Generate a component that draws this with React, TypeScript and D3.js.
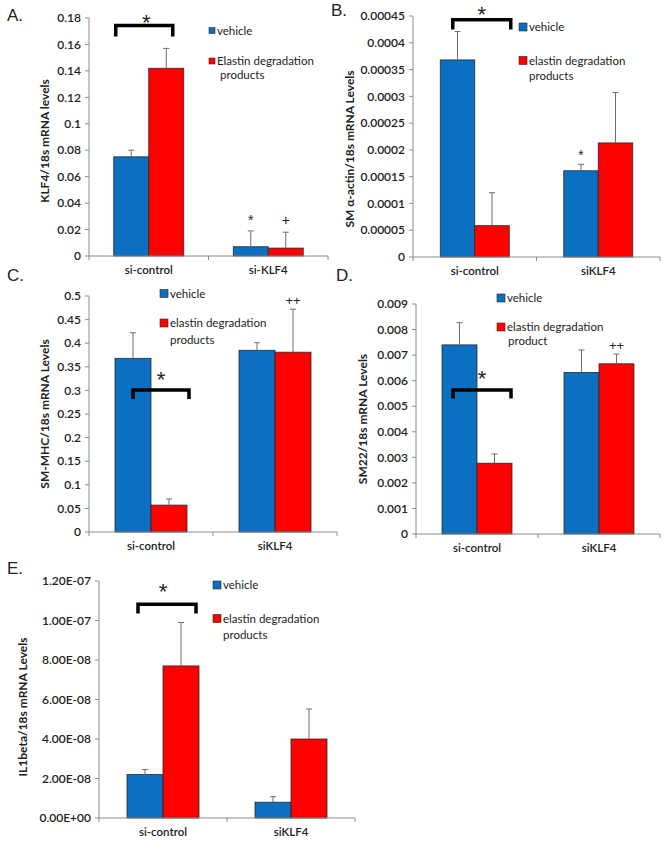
import React from "react";
import * as d3 from "d3";

// ---------- data ----------
const groupsA = ["si-control", "si-KLF4"];
const groupsSi = ["si-control", "siKLF4"];

const vehicleA = [0.075, 0.007];
const vehicleErrA = [0.005, 0.012];
const edpA = [0.142, 0.006];
const edpErrA = [0.015, 0.012];
const ticksA = [0, 0.02, 0.04, 0.06, 0.08, 0.1, 0.12, 0.14, 0.16, 0.18];
const tickLabelsA = ["0", "0.02", "0.04", "0.06", "0.08", "0.1", "0.12", "0.14", "0.16", "0.18"];

const vehicleB = [0.000368, 0.000161];
const vehicleErrB = [0.000053, 0.000012];
const edpB = [0.0000585, 0.000213];
const edpErrB = [0.0000615, 0.000094];
const ticksB = [0, 0.00005, 0.0001, 0.00015, 0.0002, 0.00025, 0.0003, 0.00035, 0.0004, 0.00045];
const tickLabelsB = ["0", "0.00005", "0.0001", "0.00015", "0.0002", "0.00025", "0.0003", "0.00035", "0.0004", "0.00045"];

const vehicleC = [0.368, 0.385];
const vehicleErrC = [0.054, 0.016];
const edpC = [0.057, 0.381];
const edpErrC = [0.013, 0.091];
const ticksC = [0, 0.05, 0.1, 0.15, 0.2, 0.25, 0.3, 0.35, 0.4, 0.45, 0.5];
const tickLabelsC = ["0", "0.05", "0.1", "0.15", "0.2", "0.25", "0.3", "0.35", "0.4", "0.45", "0.5"];

const vehicleD = [0.0074, 0.00632];
const vehicleErrD = [0.00087, 0.00088];
const edpD = [0.00277, 0.00666];
const edpErrD = [0.00036, 0.00038];
const ticksD = [0, 0.001, 0.002, 0.003, 0.004, 0.005, 0.006, 0.007, 0.008, 0.009];
const tickLabelsD = ["0", "0.001", "0.002", "0.003", "0.004", "0.005", "0.006", "0.007", "0.008", "0.009"];

const vehicleE = [2.2e-8, 0.8e-8];
const vehicleErrE = [0.25e-8, 0.28e-8];
const edpE = [7.7e-8, 4.0e-8];
const edpErrE = [2.2e-8, 1.52e-8];
const ticksE = [0, 2e-8, 4e-8, 6e-8, 8e-8, 1e-7, 1.2e-7];
const tickLabelsE = ["0.00E+00", "2.00E-08", "4.00E-08", "6.00E-08", "8.00E-08", "1.00E-07", "1.20E-07"];

const seriesNames = ["vehicle", "elastin degradation products"];

// ---------- styles ----------
const BLUE = "#0b6fc2";
const RED = "#ff0000";
const FONT = "Lato, 'Open Sans', sans-serif";
const TXT = "#222";
const AXIS = "#8c8c8c";

type Mark = { g: number; s: number; text: string; size: number; dy: number };

type PanelProps = {
  letter: string;
  letterPos: [number, number];
  groups: string[];
  vehicle: number[];
  vehicleErr: number[];
  edp: number[];
  edpErr: number[];
  ticks: number[];
  tickLabels: string[];
  yLabel: string;
  legendLines: string[];
  layout: {
    x0: number; x1: number; yTop: number; yBottom: number; barW: number;
    yLabelX: number; yLabelY: number;
    legX: number; legY1: number; legY2: number; legY3: number; leg3X: number; sq: number;
  };
  bracket: { from: number; to: number; top: number; leg: number; starDy: number; starDx: number };
  marks: Mark[];
};

function Panel(p: PanelProps) {
  const L = p.layout;
  const yMax = p.ticks[p.ticks.length - 1];
  const y = d3.scaleLinear().domain([0, yMax]).range([L.yBottom, L.yTop]);
  const x = d3.scaleBand().domain(p.groups).range([L.x0, L.x1]).paddingInner(0).paddingOuter(0);
  const bw = x.bandwidth();
  const centers = p.groups.map((g) => (x(g) as number) + bw / 2);
  const series = [
    { vals: p.vehicle, errs: p.vehicleErr, color: BLUE, off: -L.barW },
    { vals: p.edp, errs: p.edpErr, color: RED, off: 0 },
  ];
  const bracketCx = centers[0];
  const bTop = y(p.bracket.top);
  const bLeg = y(p.bracket.leg);
  const bx1 = bracketCx + p.bracket.from;
  const bx2 = bracketCx + p.bracket.to;
  const xTicks = [L.x0, ...p.groups.map((g) => (x(g) as number) + bw)];
  return (
    <g>
      <text x={p.letterPos[0]} y={p.letterPos[1]} fontFamily="'Liberation Sans', Arial, sans-serif" fontSize={17} fill={TXT}>
        {p.letter}
      </text>
      {/* y axis */}
      <line x1={L.x0} x2={L.x0} y1={L.yTop} y2={L.yBottom} stroke={AXIS} strokeWidth={1} />
      {p.ticks.map((t, i) => (
        <g key={"t" + i}>
          <line x1={L.x0 - 4} x2={L.x0} y1={y(t)} y2={y(t)} stroke={AXIS} strokeWidth={1} />
          <text x={L.x0 - 8} y={y(t)} dy="0.35em" textAnchor="end" fontFamily={FONT} fontSize={12} fontWeight={600} fill={TXT}>
            {p.tickLabels[i]}
          </text>
        </g>
      ))}
      {/* bars */}
      {series.map((s, si) =>
        p.groups.map((g, gi) => (
          <rect key={"b" + si + gi} x={centers[gi] + s.off} width={L.barW} y={y(s.vals[gi])} height={L.yBottom - y(s.vals[gi])}
            fill={s.color} stroke="#2a2a2a" strokeWidth={0.8} />
        ))
      )}
      {/* error bars */}
      {series.map((s, si) =>
        p.groups.map((g, gi) => {
          const cx = centers[gi] + s.off + L.barW / 2;
          const yt = y(s.vals[gi] + s.errs[gi]);
          return (
            <g key={"e" + si + gi}>
              <line x1={cx} x2={cx} y1={y(s.vals[gi])} y2={yt} stroke="#6e6e6e" strokeWidth={1} />
              <line x1={cx - 3} x2={cx + 3} y1={yt} y2={yt} stroke="#6e6e6e" strokeWidth={1} />
            </g>
          );
        })
      )}
      {/* x axis */}
      <line x1={L.x0} x2={L.x1} y1={L.yBottom} y2={L.yBottom} stroke={AXIS} strokeWidth={1} />
      {xTicks.map((t, i) => (
        <line key={"xt" + i} x1={t} x2={t} y1={L.yBottom} y2={L.yBottom + 4} stroke={AXIS} strokeWidth={1} />
      ))}
      {p.groups.map((g, gi) => (
        <text key={"c" + gi} x={centers[gi]} y={L.yBottom + 18} textAnchor="middle" fontFamily={FONT} fontSize={11.5} fontWeight={600} fill={TXT}>
          {g}
        </text>
      ))}
      {/* y label */}
      <text transform={`translate(${L.yLabelX},${L.yLabelY}) rotate(-90)`} textAnchor="middle" dy="0.35em"
        fontFamily={FONT} fontSize={12} fontWeight={700} fill={TXT}>
        {p.yLabel}
      </text>
      {/* bracket */}
      <path d={`M${bx1},${bLeg} V${bTop} H${bx2} V${bLeg}`} fill="none" stroke="#000" strokeWidth={3.5} />
      <text x={(bx1 + bx2) / 2 + p.bracket.starDx} y={bTop - p.bracket.starDy + 11} textAnchor="middle"
        fontFamily="'Liberation Sans', Arial, sans-serif" fontSize={22} fill={TXT}>*</text>
      {/* significance marks */}
      {p.marks.map((m, i) => {
        const s = series[m.s];
        const cx = centers[m.g] + s.off + L.barW / 2;
        const yt = y(s.vals[m.g] + s.errs[m.g]);
        return (
          <text key={"m" + i} x={cx} y={yt - m.dy} textAnchor="middle" fontFamily="'Liberation Sans', Arial, sans-serif"
            fontSize={m.size} fill={TXT}>{m.text}</text>
        );
      })}
      {/* legend */}
      <rect x={L.legX} y={L.legY1 - L.sq / 2} width={L.sq} height={L.sq} fill={BLUE} stroke="#2a2a2a" strokeWidth={0.6} />
      <text x={L.legX + L.sq + 2} y={L.legY1} dy="0.35em" fontFamily={FONT} fontSize={11.5} fill={TXT}>{p.legendLines[0]}</text>
      <rect x={L.legX} y={L.legY2 - L.sq / 2} width={L.sq} height={L.sq} fill={RED} stroke="#2a2a2a" strokeWidth={0.6} />
      <text x={L.legX + L.sq + 2} y={L.legY2} dy="0.35em" fontFamily={FONT} fontSize={11.5} fill={TXT}>{p.legendLines[1]}</text>
      <text x={L.leg3X} y={L.legY3} dy="0.35em" fontFamily={FONT} fontSize={11.5} fill={TXT}>{p.legendLines[2]}</text>
    </g>
  );
}

export default function App() {
  const leg = (second: string, third: string) => [seriesNames[0], second, third];
  return (
    <svg width={664} height={843} style={{ position: "absolute", left: 0, top: 0, background: "#fff" }}>
      <rect width={664} height={843} fill="#fff" />
      <Panel letter="A." letterPos={[7, 21]} groups={groupsA}
        vehicle={vehicleA} vehicleErr={vehicleErrA} edp={edpA} edpErr={edpErrA}
        ticks={ticksA} tickLabels={tickLabelsA} yLabel="KLF4/18s mRNA levels"
        legendLines={leg("Elastin degradation", "products")}
        layout={{ x0: 89, x1: 328, yTop: 18, yBottom: 256, barW: 35, yLabelX: 45, yLabelY: 141,
          legX: 209, legY1: 30.5, legY2: 61, legY3: 75, leg3X: 220, sq: 6 }}
        bracket={{ from: -33, to: 24, top: 0.1743, leg: 0.166, starDy: 7, starDx: 2 }}
        marks={[{ g: 1, s: 0, text: "*", size: 14, dy: 6 }, { g: 1, s: 1, text: "+", size: 14, dy: 7 }]}
      />
      <Panel letter="B." letterPos={[331, 16]} groups={groupsSi}
        vehicle={vehicleB} vehicleErr={vehicleErrB} edp={edpB} edpErr={edpErrB}
        ticks={ticksB} tickLabels={tickLabelsB} yLabel="SM α-actin/18s mRNA Levels"
        legendLines={leg("elastin degradation", "products")}
        layout={{ x0: 413, x1: 660, yTop: 16, yBottom: 257, barW: 34.5, yLabelX: 350, yLabelY: 149,
          legX: 519, legY1: 27, legY2: 60.5, legY3: 76, leg3X: 529, sq: 8 }}
        bracket={{ from: -22, to: 36, top: 0.000443, leg: 0.000425, starDy: 9, starDx: 0 }}
        marks={[{ g: 1, s: 0, text: "*", size: 14, dy: 4 }]}
      />
      <Panel letter="C." letterPos={[7, 281]} groups={groupsSi}
        vehicle={vehicleC} vehicleErr={vehicleErrC} edp={edpC} edpErr={edpErrC}
        ticks={ticksC} tickLabels={tickLabelsC} yLabel="SM-MHC/18s mRNA Levels"
        legendLines={leg("elastin degradation", "products")}
        layout={{ x0: 89, x1: 337, yTop: 296, yBottom: 532, barW: 36, yLabelX: 45, yLabelY: 414,
          legX: 160, legY1: 293.5, legY2: 323, legY3: 340, leg3X: 170, sq: 8 }}
        bracket={{ from: -18, to: 38, top: 0.301, leg: 0.282, starDy: 14, starDx: 0 }}
        marks={[{ g: 1, s: 1, text: "++", size: 13, dy: 4 }]}
      />
      <Panel letter="D." letterPos={[336, 281]} groups={groupsSi}
        vehicle={vehicleD} vehicleErr={vehicleErrD} edp={edpD} edpErr={edpErrD}
        ticks={ticksD} tickLabels={tickLabelsD} yLabel="SM22/18s mRNA Levels"
        legendLines={leg("elastin degradation", "product")}
        layout={{ x0: 416, x1: 660, yTop: 304, yBottom: 534, barW: 35, yLabelX: 363, yLabelY: 419,
          legX: 497, legY1: 298, legY2: 327, legY3: 341, leg3X: 508, sq: 8 }}
        bracket={{ from: -24, to: 34, top: 0.00563, leg: 0.0053, starDy: 15, starDx: 0 }}
        marks={[{ g: 1, s: 1, text: "++", size: 13, dy: 4 }]}
      />
      <Panel letter="E." letterPos={[7, 574]} groups={groupsSi}
        vehicle={vehicleE} vehicleErr={vehicleErrE} edp={edpE} edpErr={edpErrE}
        ticks={ticksE} tickLabels={tickLabelsE} yLabel="IL1beta/18s mRNA Levels"
        legendLines={leg("elastin degradation", "products")}
        layout={{ x0: 99, x1: 355, yTop: 581, yBottom: 818, barW: 36, yLabelX: 23, yLabelY: 707,
          legX: 213, legY1: 585, legY2: 618.5, legY3: 635, leg3X: 223, sq: 8 }}
        bracket={{ from: -25, to: 33, top: 1.082e-7, leg: 1.035e-7, starDy: 16, starDx: -4 }}
        marks={[]}
      />
    </svg>
  );
}
